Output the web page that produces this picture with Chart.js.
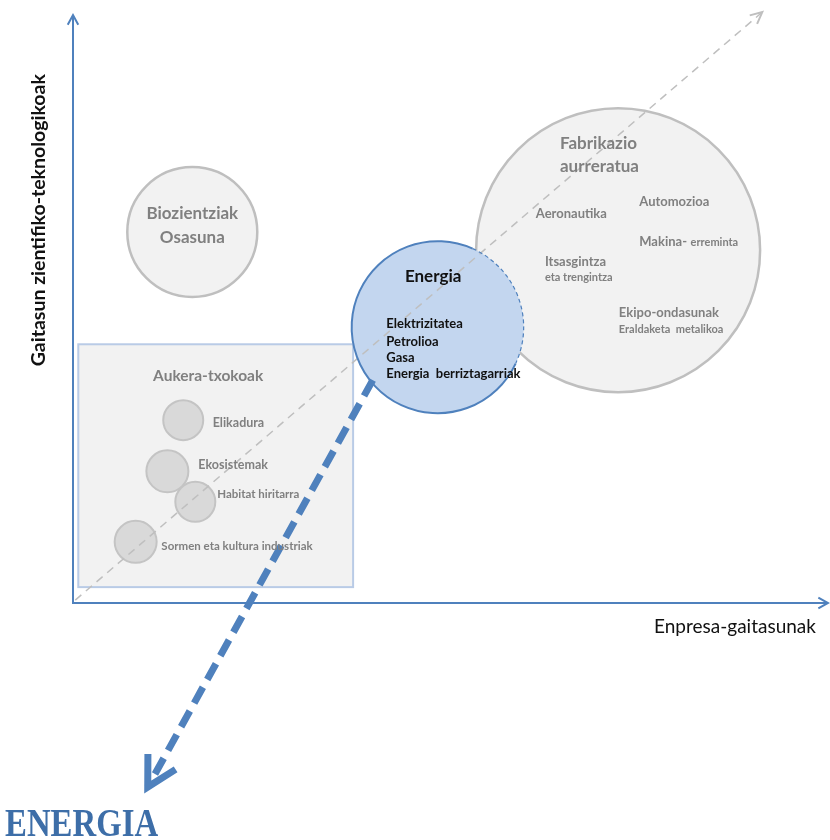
<!DOCTYPE html>
<html>
<head>
<meta charset="utf-8">
<script src="https://cdn.jsdelivr.net/npm/chart.js@4/dist/chart.umd.min.js"></script>
<style>
    html, body { margin: 0; padding: 0; background: #fff; }
    #wrap { width: 830px; height: 840px; position: relative; }
</style>
</head>
<body>
<div id="wrap"><canvas id="matrixChart"></canvas></div>
<script>
// main areas (x = enpresa-gaitasunak, y = gaitasun zientifiko-teknologikoak, r = bubble radius)
const clusterNames = ['Biozientziak Osasuna', 'Fabrikazio aurreratua', 'Energia'];
const clusterX = [15.8, 72.2, 48.3];
const clusterY = [63.1, 60.0, 46.9];
const clusterR = [65, 142, 86];

// aukera-txokoak
const nicheNames = ['Elikadura', 'Ekosistemak', 'Habitat hiritarra', 'Sormen eta kultura industriak'];
const nicheX = [14.6, 12.5, 16.2, 8.3];
const nicheY = [31.1, 22.4, 17.2, 10.4];
const nicheR = [20, 21, 20, 21];

const boxX = [0.7, 37.1];
const boxY = [2.7, 44.0];
const diagonalX = [0.3, 91.3];
const diagonalY = [0.5, 100.5];
const focusX = [39.7, 9.9];
const focusY = [37.9, -31.3];

const GRAY = '#808080';
const BLUE = '#4f81bd';

// text placed in data units
const labels = [
    { t: 'Biozientziak', x: 15.8, y: 66.2, f: 'bold 17px Lato', c: GRAY, a: 'center' },
    { t: 'Osasuna', x: 15.8, y: 62.1, f: 'bold 17px Lato', c: GRAY, a: 'center' },
    { t: 'Fabrikazio', x: 64.5, y: 78.1, f: 'bold 17px Lato', c: GRAY },
    { t: 'aurreratua', x: 64.5, y: 74.3, f: 'bold 17px Lato', c: GRAY },
    { t: 'Aeronautika', x: 61.3, y: 66.2, f: 'bold 13px Lato', c: GRAY },
    { t: 'Automozioa', x: 75.0, y: 68.2, f: 'bold 13px Lato', c: GRAY },
    { t: 'Makina-', x: 75.0, y: 61.4, f: 'bold 13px Lato', c: GRAY },
    { t: 'erreminta', x: 81.8, y: 61.4, f: 'bold 11px Lato', c: GRAY },
    { t: 'Itsasgintza', x: 62.5, y: 58.0, f: 'bold 13px Lato', c: GRAY },
    { t: 'eta trengintza', x: 62.5, y: 55.3, f: 'bold 11px Lato', c: GRAY },
    { t: 'Ekipo-ondasunak', x: 72.3, y: 49.3, f: 'bold 13px Lato', c: GRAY },
    { t: 'Eraldaketa  metalikoa', x: 72.3, y: 46.6, f: 'bold 11px Lato', c: GRAY },
    { t: 'Energia', x: 47.7, y: 55.5, f: 'bold 17px Lato', c: '#111', a: 'center' },
    { t: 'Elektrizitatea', x: 41.5, y: 47.4, f: 'bold 13px Lato', c: '#111' },
    { t: 'Petrolioa', x: 41.5, y: 44.5, f: 'bold 13px Lato', c: '#111' },
    { t: 'Gasa', x: 41.5, y: 41.7, f: 'bold 13px Lato', c: '#111' },
    { t: 'Energia  berriztagarriak', x: 41.5, y: 38.9, f: 'bold 13px Lato', c: '#111' },
    { t: 'Aukera-txokoak', x: 17.9, y: 38.6, f: 'bold 15.5px Lato', c: GRAY, a: 'center' },
    { t: 'Elikadura', x: 18.5, y: 30.6, f: 'bold 12.5px Lato', c: GRAY },
    { t: 'Ekosistemak', x: 16.6, y: 23.5, f: 'bold 12.5px Lato', c: GRAY },
    { t: 'Habitat hiritarra', x: 19.1, y: 18.5, f: 'bold 11.5px Lato', c: GRAY },
    { t: 'Sormen eta kultura industriak', x: 11.7, y: 9.7, f: 'bold 11.5px Lato', c: GRAY },
    { t: 'Enpresa-gaitasunak', x: 98.4, y: -4.1, f: '19px Lato', c: '#111', a: 'right' }
];

function chevron(ctx, tipX, tipY, angle, len, spread) {
    ctx.beginPath();
    ctx.moveTo(tipX - len * Math.cos(angle - spread), tipY - len * Math.sin(angle - spread));
    ctx.lineTo(tipX, tipY);
    ctx.lineTo(tipX - len * Math.cos(angle + spread), tipY - len * Math.sin(angle + spread));
    ctx.stroke();
}

const diagramPlugin = {
    id: 'diagram',
    beforeDatasetsDraw(chart) {
        const { ctx, scales: { x, y } } = chart;
        ctx.save();
        // aukera-txokoak box
        const bx = x.getPixelForValue(boxX[0]), by = y.getPixelForValue(boxY[1]);
        const bw = x.getPixelForValue(boxX[1]) - bx, bh = y.getPixelForValue(boxY[0]) - by;
        ctx.fillStyle = '#f2f2f2';
        ctx.fillRect(bx, by, bw, bh);
        ctx.strokeStyle = '#b9cbe6';
        ctx.lineWidth = 2;
        ctx.strokeRect(bx, by, bw, bh);
        // axes
        const ox = x.getPixelForValue(0), oy = y.getPixelForValue(0);
        const top = y.getPixelForValue(100), right = x.getPixelForValue(100);
        ctx.strokeStyle = BLUE;
        ctx.lineWidth = 2;
        ctx.beginPath();
        ctx.moveTo(ox, top);
        ctx.lineTo(ox, oy);
        ctx.lineTo(right, oy);
        ctx.stroke();
        chevron(ctx, ox, top, -Math.PI / 2, 11, 0.5);
        chevron(ctx, right, oy, 0, 11, 0.5);
        ctx.restore();
    },
    afterDatasetsDraw(chart) {
        const { ctx, scales: { x, y } } = chart;
        ctx.save();
        // energia outline: solid on the left, dashed where it meets fabrikazio
        const ex = x.getPixelForValue(clusterX[2]), ey = y.getPixelForValue(clusterY[2]), er = clusterR[2];
        ctx.strokeStyle = BLUE;
        ctx.lineWidth = 2;
        ctx.beginPath();
        ctx.arc(ex, ey, er, 25 * Math.PI / 180, 294 * Math.PI / 180);
        ctx.stroke();
        ctx.lineWidth = 1.2;
        ctx.setLineDash([4, 3]);
        ctx.beginPath();
        ctx.arc(ex, ey, er, -66 * Math.PI / 180, 25 * Math.PI / 180);
        ctx.stroke();
        ctx.setLineDash([]);

        // arrow heads of the two dashed lines
        const d0x = x.getPixelForValue(diagonalX[0]), d0y = y.getPixelForValue(diagonalY[0]);
        const d1x = x.getPixelForValue(diagonalX[1]), d1y = y.getPixelForValue(diagonalY[1]);
        ctx.strokeStyle = '#bfbfbf';
        ctx.lineWidth = 2;
        chevron(ctx, d1x, d1y, Math.atan2(d1y - d0y, d1x - d0x), 13, 0.45);
        const f0x = x.getPixelForValue(focusX[0]), f0y = y.getPixelForValue(focusY[0]);
        const f1x = x.getPixelForValue(focusX[1]), f1y = y.getPixelForValue(focusY[1]);
        ctx.strokeStyle = BLUE;
        ctx.lineWidth = 7;
        ctx.lineJoin = 'miter';
        chevron(ctx, f1x, f1y, Math.atan2(f1y - f0y, f1x - f0x), 33, 0.5);

        // texts
        ctx.textBaseline = 'middle';
        labels.forEach((l) => {
            ctx.font = l.f;
            ctx.fillStyle = l.c;
            ctx.textAlign = l.a || 'left';
            ctx.fillText(l.t, x.getPixelForValue(l.x), y.getPixelForValue(l.y));
        });
        // y axis title
        ctx.save();
        ctx.translate(x.getPixelForValue(-4.6), y.getPixelForValue(65.1));
        ctx.rotate(-Math.PI / 2);
        ctx.font = 'bold 19.5px Lato';
        ctx.fillStyle = '#111';
        ctx.textAlign = 'center';
        ctx.fillText('Gaitasun zientifiko-teknologikoak', 0, 0);
        ctx.restore();
        // big title under the arrow
        ctx.save();
        ctx.translate(x.getPixelForValue(-9.0), y.getPixelForValue(-39.6));
        ctx.scale(0.82, 1);
        ctx.font = 'bold 40px "Liberation Serif"';
        ctx.fillStyle = '#3d6ea8';
        ctx.textAlign = 'left';
        ctx.textBaseline = 'alphabetic';
        ctx.fillText('ENERGIA', 0, 0);
        ctx.restore();
        ctx.restore();
    }
};

const toPoints = (xs, ys, rs) => xs.map((v, i) => (rs ? { x: v, y: ys[i], r: rs[i] } : { x: v, y: ys[i] }));

new Chart(document.getElementById('matrixChart'), {
    type: 'bubble',
    data: {
        datasets: [
            {
                label: 'Focus', type: 'line', order: 1, data: toPoints(focusX, focusY),
                borderColor: BLUE, borderWidth: 7, borderDash: [18, 9], pointRadius: 0, fill: false, clip: false
            },
            {
                label: 'Diagonal', type: 'line', order: 2, data: toPoints(diagonalX, diagonalY),
                borderColor: '#bfbfbf', borderWidth: 1.5, borderDash: [8, 6], pointRadius: 0, fill: false, clip: false
            },
            {
                label: 'Aukera-txokoak', order: 3, data: toPoints(nicheX, nicheY, nicheR),
                backgroundColor: '#d9d9d9', borderColor: '#c4c4c4', borderWidth: 2, clip: false
            },
            {
                label: clusterNames[2], order: 4, data: toPoints(clusterX.slice(2), clusterY.slice(2), clusterR.slice(2)),
                backgroundColor: '#c3d6ef', borderWidth: 0, clip: false
            },
            {
                label: 'Clusters', order: 5, data: toPoints(clusterX.slice(0, 2), clusterY.slice(0, 2), clusterR.slice(0, 2)),
                backgroundColor: '#f2f2f2', borderColor: '#bfbfbf', borderWidth: 2.5, clip: false
            }
        ]
    },
    options: {
        responsive: true,
        maintainAspectRatio: false,
        animation: false,
        events: [],
        layout: { autoPadding: false, padding: { left: 73, right: 2, top: 15, bottom: 237 } },
        plugins: { legend: { display: false }, tooltip: { enabled: false } },
        scales: {
            x: { type: 'linear', min: 0, max: 100, display: false },
            y: { type: 'linear', min: 0, max: 100, display: false }
        }
    },
    plugins: [diagramPlugin]
});
</script>
</body>
</html>
